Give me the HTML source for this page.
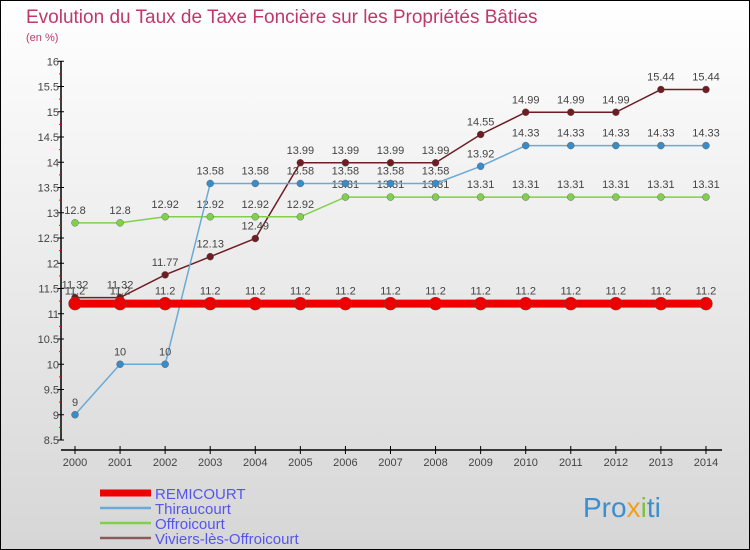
<!DOCTYPE html>
<html><head><meta charset="utf-8"><style>
body{margin:0}
#c{width:750px;height:550px;position:relative;overflow:hidden;box-sizing:border-box;border:1px solid #000;background:linear-gradient(#ffffff,#d6d6d6);font-family:"Liberation Sans","DejaVu Sans",sans-serif}
</style></head><body>
<div id="c">
<svg id="s" width="750" height="550" style="position:absolute;left:-1px;top:-1px">
<text x="26" y="23" font-size="19" fill="#c0386a">Evolution du Taux de Taxe Foncière sur les Propriétés Bâties</text>
<text x="26" y="41" font-size="11" fill="#c0386a">(en %)</text>
<g id="axes"></g><g id="series"></g><g id="legend"></g>
<text x="583" y="517" font-size="28" fill="#3a8fd0">Pro<tspan fill="#f0a020">x</tspan><tspan fill="#7fc040">i</tspan>ti</text>
</svg>
</div>
<script>
const years=[2000,2001,2002,2003,2004,2005,2006,2007,2008,2009,2010,2011,2012,2013,2014];
const remicourt=[11.2,11.2,11.2,11.2,11.2,11.2,11.2,11.2,11.2,11.2,11.2,11.2,11.2,11.2,11.2];
const thiraucourt=[9,10,10,13.58,13.58,13.58,13.58,13.58,13.58,13.92,14.33,14.33,14.33,14.33,14.33];
const offroicourt=[12.8,12.8,12.92,12.92,12.92,12.92,13.31,13.31,13.31,13.31,13.31,13.31,13.31,13.31,13.31];
const viviers=[11.32,11.32,11.77,12.13,12.49,13.99,13.99,13.99,13.99,14.55,14.99,14.99,14.99,15.44,15.44];
const yTicks=[8.5,9,9.5,10,10.5,11,11.5,12,12.5,13,13.5,14,14.5,15,15.5,16];
const NS="http://www.w3.org/2000/svg";
const X=i=>75+i*45.07, Y=v=>440-(v-8.5)*50.5;
function mk(p,t,a){const e=document.createElementNS(NS,t);for(const k in a)e.setAttribute(k,a[k]);p.appendChild(e);return e;}
const ax=document.getElementById('axes');
let e=mk(ax,'line',{x1:61,y1:Y(16),x2:61,y2:Y(8.5),stroke:'#000','stroke-width':1.5});

e=mk(ax,'line',{x1:61,y1:450,x2:722,y2:450,stroke:'#000','stroke-width':1.5});

yTicks.forEach(v=>{
 mk(ax,'line',{x1:58,x2:64,y1:Y(v),y2:Y(v),stroke:'#000'});
 if(v<16) mk(ax,'line',{x1:59,x2:61,y1:Y(v+0.25),y2:Y(v+0.25),stroke:'#f00'});
 const t=mk(ax,'text',{x:59,y:Y(v)+4,'font-size':11,'text-anchor':'end',fill:'#444'});
 t.textContent=String(v);
 
});
years.forEach((y,i)=>{
 mk(ax,'line',{x1:X(i),x2:X(i),y1:446,y2:454,stroke:'#000'});
 const t=mk(ax,'text',{x:X(i),y:466,'font-size':11,'text-anchor':'middle',fill:'#444'});
 t.textContent=y;
 
});
const sg=document.getElementById('series');
const defs=[
 {n:'viviers',d:viviers,c:'#6e1e22',w:1.5,r:3.5,lab:'Viviers-lès-Offroicourt'},
 {n:'offroicourt',d:offroicourt,c:'#7fd04a',w:1.5,r:3.5,lab:'Offroicourt'},
 {n:'thiraucourt',d:thiraucourt,c:'#3a8cc8',w:1.5,r:3.5,lab:'Thiraucourt'},
 {n:'remicourt',d:remicourt,c:'#ee0000',w:8,r:6.5,lab:'REMICOURT'}
];
defs.forEach(s=>{
 const g=mk(sg,'g',{});
 
 const p=mk(g,'polyline',{points:s.d.map((v,i)=>X(i)+','+Y(v)).join(' '),fill:'none',stroke:s.n==='thiraucourt'?'#6aaad8':s.c,'stroke-width':s.w});
 
 s.d.forEach((v,i)=>{
  const c=mk(g,'circle',{cx:X(i),cy:Y(v),r:s.r,fill:s.c,stroke:'#555','stroke-width':0.4});
  
  const t=mk(g,'text',{x:X(i),y:Y(v)-9,'font-size':11,'text-anchor':'middle',fill:'#444'});
  t.textContent=String(v);
  
 });
});
const lg=document.getElementById('legend');
[...defs].reverse().forEach((s,k)=>{
 const y=493+k*15;
 const g=mk(lg,'g',{});
 
 mk(g,'line',{x1:100,x2:151,y1:y,y2:y,stroke:s.n==='viviers'?'#8c5a5a':(s.n==='thiraucourt'?'#6aaad8':s.c),'stroke-width':s.n==='remicourt'?7:2.5});
 const t=mk(g,'text',{x:155,y:y+6,'font-size':15,fill:'#5555ee'});
 t.textContent=s.lab;
});
</script>
</body></html>
